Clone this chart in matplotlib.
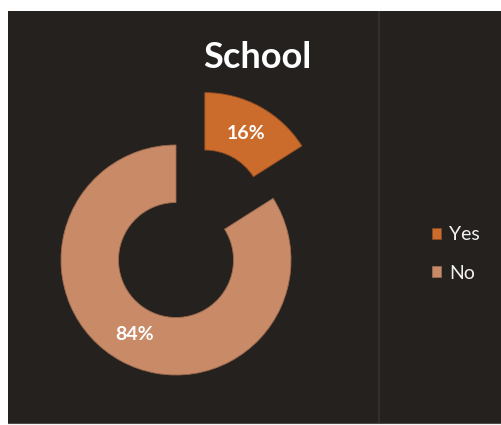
import matplotlib.pyplot as plt

labels = ["Yes", "No"]
shares = [16, 84]
colors = ["#cb6c2c", "#c98a68"]
title = "School"

W, H = 501, 425
fig = plt.figure(figsize=(W / 100, H / 100), dpi=100, facecolor="white")

# dark chart area with a faint divider line
bg = fig.add_axes([8 / W, 2 / H, 1 - 8 / W, (H - 13) / H])
bg.set_facecolor("#25211e")
bg.set_xticks([])
bg.set_yticks([])
for s in bg.spines.values():
    s.set_visible(False)
bg.spines["bottom"].set_visible(True)
bg.spines["bottom"].set_color("#4a4a4a")
bg.axvline((379 - 8) / (W - 8), color="#38332f", lw=1.2)

# donut: centre (176, 260) px, radius 115 px
R = 115
k = 1.6
size = 2 * k * R
cx, cy = 176, H - 260
ax = fig.add_axes([(cx - size / 2) / W, (cy - size / 2) / H, size / W, size / H])

wedges, texts, autotexts = ax.pie(
    shares, colors=colors, startangle=90, counterclock=False,
    explode=[0.52, 0], radius=1, autopct="%1.0f%%", pctdistance=0.74,
    wedgeprops=dict(width=0.5, edgecolor="#8a4a22", linewidth=0.6),
    textprops=dict(color="white", fontsize=14, fontweight="bold", family="Lato"),
)
wedges[1].set_edgecolor("#9a6a50")
for w in wedges:
    w.set_clip_on(False)
ax.set_xlim(-k, k)
ax.set_ylim(-k, k)
ax.set_aspect("equal")
ax.axis("off")

fig.text(257 / W, 1 - 58 / H, title, color="white", fontsize=26,
         fontweight="bold", family="Lato", ha="center", va="center")

leg = fig.legend(wedges, labels, loc="center left",
                 bbox_to_anchor=(414 / W, 1 - 254 / H), frameon=False,
                 handlelength=0.5, handleheight=0.5, handletextpad=0.4,
                 labelspacing=1.1, prop=dict(family="Lato", size=14))
for t in leg.get_texts():
    t.set_color("#f2f2f2")

fig.savefig("out.png", dpi=100, facecolor="white")
